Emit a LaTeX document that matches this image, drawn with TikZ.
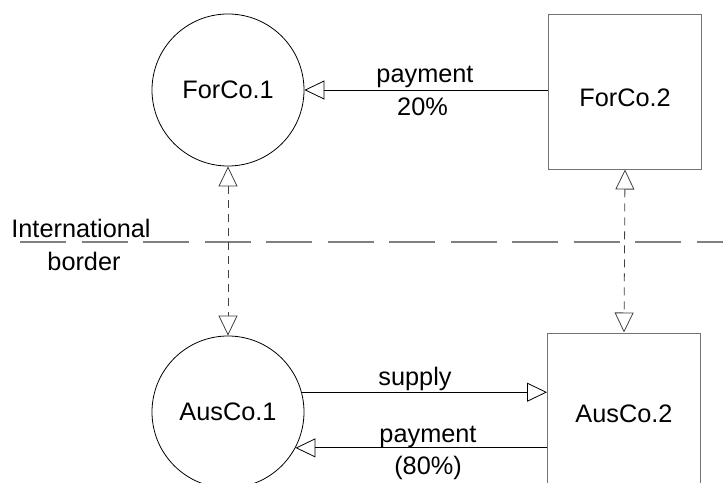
\documentclass[tikz,border=0pt]{standalone}
\usepackage{fontspec}
\setmainfont{Liberation Sans}
\usetikzlibrary{arrows.meta}
\begin{document}
\begin{tikzpicture}[x=1pt,y=-1pt,
  every node/.style={font=\fontsize{25.3}{30}\selectfont},
  circ/.style={draw, circle, minimum size=152pt, inner sep=0pt, line width=0.8pt},
  boxnode/.style={draw=black!55, rectangle, minimum width=153pt, inner sep=0pt, line width=1pt},
  flow/.style={line width=0.8pt, -{Triangle[open,length=20pt,width=19pt]}},
  link/.style={line width=0.8pt, black!75, dash pattern=on 8pt off 6pt,
    {Triangle[open,length=20pt,width=19pt]}-{Triangle[open,length=20pt,width=19pt]}},
  border line/.style={line width=1.2pt, black!50, dash pattern=on 46pt off 15.5pt},
  lbl/.style={inner sep=0pt}]
\useasboundingbox (0,0) rectangle (723,482);

% border
\coordinate (bl) at (20,242);
\coordinate (br) at (723,242);
\draw[border line] (bl) -- (br);
\node[lbl] (intl) at (81,228) {International};
\node[lbl] (bord) at (84,261) {border};

% nodes
\node[circ] (f1) at (228,90) {ForCo.1};
\node[boxnode, minimum height=155pt, text height=30pt, text depth=0pt] (f2) at (625,91.5) {ForCo.2};
\node[circ] (a1) at (228,412) {AusCo.1};
\node[boxnode, minimum height=153pt, text height=26pt, text depth=0pt] (a2) at (624,409.5) {AusCo.2};

% connectors
\draw[flow] (f2.west |- f1.east) -- (f1.east);
\draw[link] (f1.south) -- (a1.north);
\draw[link] (f2.south) -- (a2.north);
\draw[flow] (a1.15.3) -- (a2.west |- a1.15.3);
\draw[flow] (a2.west |- a1.-28.3) -- (a1.-28.3);

% labels
\node[lbl] (p1) at (425,77) {payment};
\node[lbl] (p1v) at (422.5,107) {20\%};
\node[lbl] (sup) at (415,379) {supply};
\node[lbl] (p2) at (428,436.5) {payment};
\node[lbl] (p2v) at (428,468) {(80\%)};
\end{tikzpicture}
\end{document}
